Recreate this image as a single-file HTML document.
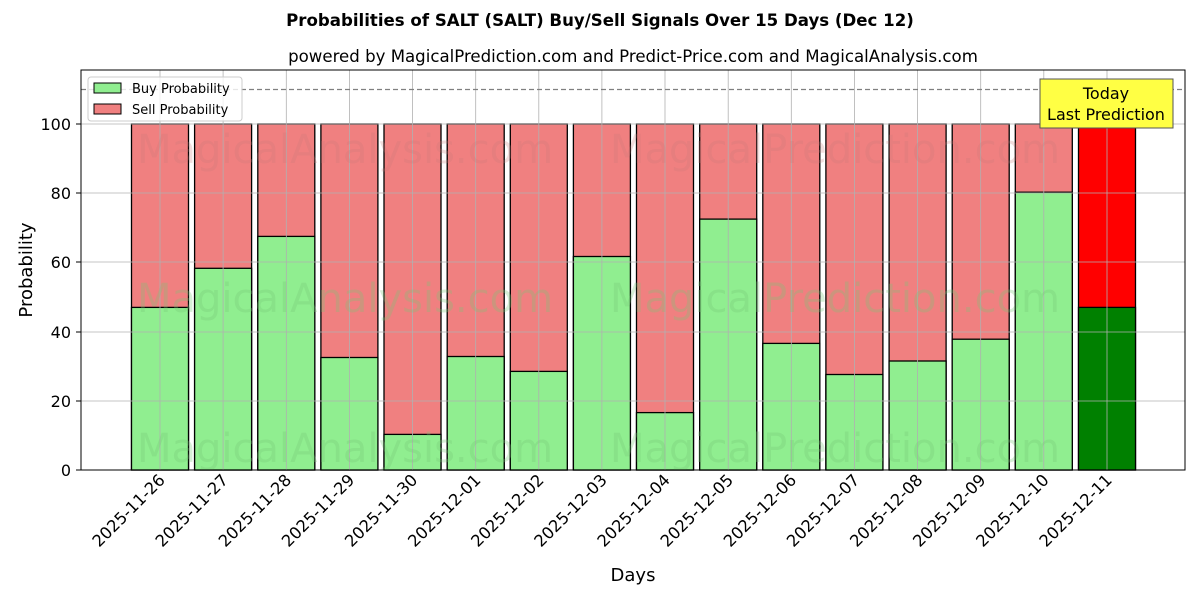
<!DOCTYPE html>
<html><head><meta charset="utf-8"><style>
body{margin:0;background:#fff;}
svg text{font-family:"DejaVu Sans","Liberation Sans",sans-serif;}
</style></head><body>
<svg width="1200" height="600" viewBox="0 0 1200 600" xmlns="http://www.w3.org/2000/svg">
<rect width="1200" height="600" fill="#fff"/>
<text x="600" y="26" text-anchor="middle" font-size="16.6" font-weight="bold">Probabilities of SALT (SALT) Buy/Sell Signals Over 15 Days (Dec 12)</text>
<text x="633" y="62" text-anchor="middle" font-size="16.6">powered by MagicalPrediction.com and Predict-Price.com and MagicalAnalysis.com</text>
<g id="bars" stroke="#000" stroke-width="1.3">
<rect x="131.5" y="124" width="57" height="346" fill="#f08080"/><rect x="131.5" y="307.4" width="57" height="162.6" fill="#90ee90"/>
<rect x="194.6" y="124" width="57" height="346" fill="#f08080"/><rect x="194.6" y="268.3" width="57" height="201.7" fill="#90ee90"/>
<rect x="257.8" y="124" width="57" height="346" fill="#f08080"/><rect x="257.8" y="236.4" width="57" height="233.6" fill="#90ee90"/>
<rect x="320.9" y="124" width="57" height="346" fill="#f08080"/><rect x="320.9" y="357.5" width="57" height="112.5" fill="#90ee90"/>
<rect x="384.0" y="124" width="57" height="346" fill="#f08080"/><rect x="384.0" y="434.4" width="57" height="35.6" fill="#90ee90"/>
<rect x="447.2" y="124" width="57" height="346" fill="#f08080"/><rect x="447.2" y="356.5" width="57" height="113.5" fill="#90ee90"/>
<rect x="510.3" y="124" width="57" height="346" fill="#f08080"/><rect x="510.3" y="371.4" width="57" height="98.6" fill="#90ee90"/>
<rect x="573.4" y="124" width="57" height="346" fill="#f08080"/><rect x="573.4" y="256.5" width="57" height="213.5" fill="#90ee90"/>
<rect x="636.5" y="124" width="57" height="346" fill="#f08080"/><rect x="636.5" y="412.6" width="57" height="57.4" fill="#90ee90"/>
<rect x="699.7" y="124" width="57" height="346" fill="#f08080"/><rect x="699.7" y="219.1" width="57" height="250.9" fill="#90ee90"/>
<rect x="762.8" y="124" width="57" height="346" fill="#f08080"/><rect x="762.8" y="343.4" width="57" height="126.6" fill="#90ee90"/>
<rect x="825.9" y="124" width="57" height="346" fill="#f08080"/><rect x="825.9" y="374.5" width="57" height="95.5" fill="#90ee90"/>
<rect x="889.1" y="124" width="57" height="346" fill="#f08080"/><rect x="889.1" y="361" width="57" height="109" fill="#90ee90"/>
<rect x="952.2" y="124" width="57" height="346" fill="#f08080"/><rect x="952.2" y="339.2" width="57" height="130.8" fill="#90ee90"/>
<rect x="1015.3" y="124" width="57" height="346" fill="#f08080"/><rect x="1015.3" y="192.2" width="57" height="277.8" fill="#90ee90"/>
<rect x="1078.5" y="124" width="57" height="346" fill="#ff0000"/><rect x="1078.5" y="307.4" width="57" height="162.6" fill="#008000"/>
</g>
<g stroke="#b0b0b0" stroke-width="0.8">
<line x1="160" y1="70" x2="160" y2="470"/><line x1="223.1" y1="70" x2="223.1" y2="470"/><line x1="286.3" y1="70" x2="286.3" y2="470"/><line x1="349.4" y1="70" x2="349.4" y2="470"/><line x1="412.5" y1="70" x2="412.5" y2="470"/><line x1="475.7" y1="70" x2="475.7" y2="470"/><line x1="538.8" y1="70" x2="538.8" y2="470"/><line x1="601.9" y1="70" x2="601.9" y2="470"/><line x1="665" y1="70" x2="665" y2="470"/><line x1="728.2" y1="70" x2="728.2" y2="470"/><line x1="791.3" y1="70" x2="791.3" y2="470"/><line x1="854.4" y1="70" x2="854.4" y2="470"/><line x1="917.6" y1="70" x2="917.6" y2="470"/><line x1="980.7" y1="70" x2="980.7" y2="470"/><line x1="1043.8" y1="70" x2="1043.8" y2="470"/><line x1="1107" y1="70" x2="1107" y2="470"/>
<line x1="81" y1="401" x2="1185" y2="401"/><line x1="81" y1="332" x2="1185" y2="332"/><line x1="81" y1="262" x2="1185" y2="262"/><line x1="81" y1="193" x2="1185" y2="193"/><line x1="81" y1="124" x2="1185" y2="124"/>
</g>
<line x1="81" y1="89.5" x2="1185" y2="89.5" stroke="#808080" stroke-width="1.3" stroke-dasharray="5,3"/>
<g font-size="40" fill="rgba(200,120,120,0.25)" text-anchor="middle">
<text x="345" y="163">MagicalAnalysis.com</text><text x="835" y="163">MagicalPrediction.com</text>
</g>
<g font-size="40" fill="rgba(120,200,120,0.3)" text-anchor="middle">
<text x="345" y="312">MagicalAnalysis.com</text><text x="835" y="312">MagicalPrediction.com</text>
<text x="345" y="462">MagicalAnalysis.com</text><text x="835" y="462">MagicalPrediction.com</text>
</g>
<rect x="81" y="70" width="1104" height="400" fill="none" stroke="#000" stroke-width="1"/>
<g font-size="16" text-anchor="end">
<text x="71" y="476">0</text><text x="71" y="407">20</text><text x="71" y="338">40</text><text x="71" y="268">60</text><text x="71" y="199">80</text><text x="71" y="130">100</text>
</g>
<g stroke="#000"><line x1="76" y1="470" x2="81" y2="470"/><line x1="76" y1="401" x2="81" y2="401"/><line x1="76" y1="332" x2="81" y2="332"/><line x1="76" y1="262" x2="81" y2="262"/><line x1="76" y1="193" x2="81" y2="193"/><line x1="76" y1="124" x2="81" y2="124"/></g>
<g font-size="16.3" text-anchor="end">
<text transform="translate(166,481) rotate(-45)">2025-11-26</text>
<text transform="translate(229.1,481) rotate(-45)">2025-11-27</text>
<text transform="translate(292.3,481) rotate(-45)">2025-11-28</text>
<text transform="translate(355.4,481) rotate(-45)">2025-11-29</text>
<text transform="translate(418.5,481) rotate(-45)">2025-11-30</text>
<text transform="translate(481.7,481) rotate(-45)">2025-12-01</text>
<text transform="translate(544.8,481) rotate(-45)">2025-12-02</text>
<text transform="translate(607.9,481) rotate(-45)">2025-12-03</text>
<text transform="translate(671,481) rotate(-45)">2025-12-04</text>
<text transform="translate(734.2,481) rotate(-45)">2025-12-05</text>
<text transform="translate(797.3,481) rotate(-45)">2025-12-06</text>
<text transform="translate(860.4,481) rotate(-45)">2025-12-07</text>
<text transform="translate(923.6,481) rotate(-45)">2025-12-08</text>
<text transform="translate(986.7,481) rotate(-45)">2025-12-09</text>
<text transform="translate(1049.8,481) rotate(-45)">2025-12-10</text>
<text transform="translate(1113,481) rotate(-45)">2025-12-11</text>
</g>
<text x="633" y="581" text-anchor="middle" font-size="18">Days</text>
<text transform="translate(32,270) rotate(-90)" text-anchor="middle" font-size="18">Probability</text>
<rect x="88" y="77" width="154" height="44" rx="3" fill="#fff" fill-opacity="0.8" stroke="#ccc"/>
<rect x="94" y="83" width="27" height="10" fill="#90ee90" stroke="#000"/>
<text x="132" y="93" font-size="13">Buy Probability</text>
<rect x="94" y="104" width="27" height="10" fill="#f08080" stroke="#000"/>
<text x="132" y="114" font-size="13">Sell Probability</text>
<rect x="1040" y="79" width="133" height="49" fill="#ffff44" stroke="#555"/>
<text x="1106" y="99" text-anchor="middle" font-size="16">Today</text>
<text x="1106" y="120" text-anchor="middle" font-size="16">Last Prediction</text>
</svg>
</body></html>
